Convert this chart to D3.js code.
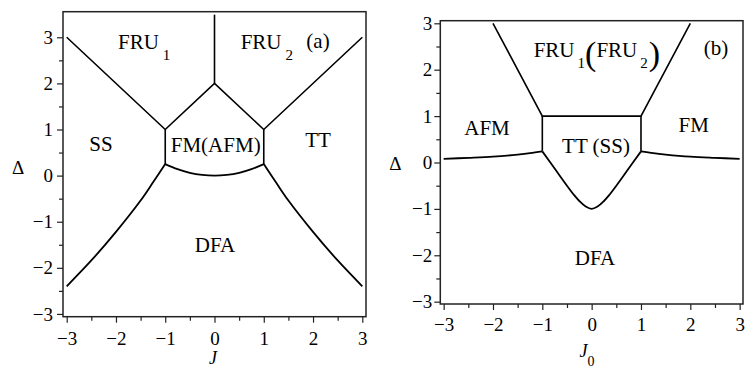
<!DOCTYPE html>
<html>
<head>
<meta charset="utf-8">
<script src="https://cdn.jsdelivr.net/npm/d3@7/dist/d3.min.js"></script>
<style>
  body { margin: 0; background: #fff; }
  svg text { font-family: "Liberation Serif", "Times New Roman", serif !important; fill: #000; }
</style>
</head>
<body>
<div id="chart"></div>
<script>
// tick values (both panels)
const majorTicks = [-3, -2, -1, 0, 1, 2, 3];
const minorTicks = [-2.5, -1.5, -0.5, 0.5, 1.5, 2.5];

// panel (a): phase boundaries as [J, Delta]
const aStem = [[0, 2], [0, 3.49]];
const aRoof = [[-3, 3], [-1, 1], [0, 2], [1, 1], [3, 3]];
const aWallL = [[-1, 1], [-1, 0.25]];
const aWallR = [[1, 1], [1, 0.25]];
const aFloor = [[-1, 0.25], [-0.75, 0.14], [-0.5, 0.06], [-0.25, 0.015], [0, 0], [0.25, 0.015], [0.5, 0.06], [0.75, 0.14], [1, 0.25]];
const aLowL = [[-3, -2.4], [-2.5, -1.84], [-2, -1.22], [-1.5, -0.54], [-1.25, -0.15], [-1, 0.25]];
const aLowR = [[1, 0.25], [1.25, -0.15], [1.5, -0.54], [2, -1.22], [2.5, -1.84], [3, -2.4]];

// panel (b): phase boundaries as [J0, Delta]
const bRoof = [[-2, 3], [-1, 1], [1, 1], [2, 3]];
const bWallL = [[-1, 1], [-1, 0.25]];
const bWallR = [[1, 1], [1, 0.25]];
const bBowl = [[-1, 0.24], [-0.75, -0.13], [-0.5, -0.5], [-0.35, -0.71], [-0.25, -0.83], [-0.12, -0.95], [0, -1], [0.12, -0.95], [0.25, -0.83], [0.35, -0.71], [0.5, -0.5], [0.75, -0.13], [1, 0.24]];
const bOutL = [[-3, 0.08], [-2.5, 0.1], [-2, 0.125], [-1.5, 0.17], [-1.25, 0.2], [-1, 0.24]];
const bOutR = [[1, 0.24], [1.25, 0.2], [1.5, 0.17], [2, 0.125], [2.5, 0.1], [3, 0.08]];

(function(){
    const width = 747;
    const height = 368;

    const svg = d3.select('#chart')
        .append('svg')
            .attr('width', width)
            .attr('height', height);

    const fmt = d => d < 0 ? '\u2212' + Math.abs(d) : String(d);

    const drawPanel = (p) => {
        const x = d3.scaleLinear().domain(p.xDomain).range([p.left, p.right]);
        const y = d3.scaleLinear().domain(p.yDomain).range([p.bottom, p.top]);
        const g = svg.append('g');

        // frame
        g.append('rect')
            .attr('x', p.left)
            .attr('y', p.top)
            .attr('width', p.right - p.left)
            .attr('height', p.bottom - p.top)
            .attr('fill', 'none')
            .attr('stroke', '#222')
            .attr('stroke-width', 1.5);

        // minor ticks
        g.append('g')
            .attr('transform', `translate(0, ${p.bottom})`)
            .call(d3.axisBottom(x).tickValues(minorTicks).tickSize(4).tickSizeOuter(0).tickFormat(''))
            .call(a => a.select('.domain').remove());
        g.append('g')
            .attr('transform', `translate(${p.left}, 0)`)
            .call(d3.axisLeft(y).tickValues(minorTicks).tickSize(4).tickSizeOuter(0).tickFormat(''))
            .call(a => a.select('.domain').remove());

        // major ticks
        g.append('g')
            .attr('transform', `translate(0, ${p.bottom})`)
            .call(d3.axisBottom(x).tickValues(majorTicks).tickSize(6).tickSizeOuter(0).tickPadding(p.xPad).tickFormat(fmt))
            .call(a => a.select('.domain').remove());
        g.append('g')
            .attr('transform', `translate(${p.left}, 0)`)
            .call(d3.axisLeft(y).tickValues(majorTicks).tickSize(6).tickSizeOuter(0).tickPadding(p.yPad).tickFormat(fmt))
            .call(a => a.select('.domain').remove());

        g.selectAll('.tick line').attr('stroke', '#222').attr('stroke-width', 1.2);
        g.selectAll('.tick text').attr('font-size', 19);

        const straight = d3.line().x(d => x(d[0])).y(d => y(d[1]));
        const smooth = d3.line().x(d => x(d[0])).y(d => y(d[1])).curve(d3.curveCatmullRom.alpha(0.5));

        p.straight.forEach(pts => {
            g.append('path')
                .attr('d', straight(pts))
                .attr('fill', 'none')
                .attr('stroke', '#000')
                .attr('stroke-width', 1.6);
        });
        p.curves.forEach(pts => {
            g.append('path')
                .attr('d', smooth(pts))
                .attr('fill', 'none')
                .attr('stroke', '#000')
                .attr('stroke-width', 1.8);
        });

        return g;
    };

    const label = (g, txt, xp, yp, size, anchor, style) => g.append('text')
        .attr('x', xp)
        .attr('y', yp)
        .attr('font-size', size)
        .attr('text-anchor', anchor || 'middle')
        .attr('font-style', style || 'normal')
        .text(txt);

    // ---- panel (a)
    const ga = drawPanel({
        xDomain: [-3.075, 3.075], yDomain: [-3.06, 3.555],
        left: 63, right: 366, top: 11.7, bottom: 316.7,
        xPad: 9, yPad: 4,
        straight: [aStem, aRoof, aWallL, aWallR],
        curves: [aFloor, aLowL, aLowR]
    });

    const fru1 = label(ga, 'FRU', 118, 49, 21, 'start');
    fru1.append('tspan').attr('dx', 4).attr('dy', 11).attr('font-size', 15).text('1');
    const fru2 = label(ga, 'FRU', 240.7, 49, 21, 'start');
    fru2.append('tspan').attr('dx', 4).attr('dy', 11).attr('font-size', 15).text('2');
    label(ga, '(a)', 318, 48, 21);
    label(ga, 'SS', 101, 151, 21);
    label(ga, 'FM(AFM)', 215.7, 152, 21);
    label(ga, 'TT', 318, 147, 21);
    label(ga, 'DFA', 215, 252, 21);
    label(ga, '\u0394', 18, 174, 19);
    label(ga, 'J', 213, 364, 18, 'middle', 'italic');

    // ---- panel (b)
    const gb = drawPanel({
        xDomain: [-3.068, 3.068], yDomain: [-3.05, 3.056],
        left: 440.3, right: 743, top: 20.7, bottom: 304,
        xPad: 8, yPad: 2,
        straight: [bRoof, bWallL, bWallR],
        curves: [bBowl, bOutL, bOutR]
    });

    const fru = label(gb, 'FRU', 533.7, 57, 21, 'start');
    fru.append('tspan').attr('dx', 3).attr('dy', 11).attr('font-size', 15).text('1');
    fru.append('tspan').attr('dx', 0).attr('dy', -3).attr('font-size', 34).text('(');
    fru.append('tspan').attr('dx', 0).attr('dy', -8).attr('font-size', 21).text('FRU');
    fru.append('tspan').attr('dx', 3).attr('dy', 11).attr('font-size', 15).text('2');
    fru.append('tspan').attr('dx', 1).attr('dy', -3).attr('font-size', 34).text(')');
    label(gb, '(b)', 716, 55, 21);
    label(gb, 'AFM', 487, 135, 21);
    label(gb, 'FM', 693.7, 132, 21);
    label(gb, 'TT (SS)', 596, 153, 21);
    label(gb, 'DFA', 595, 265, 21);
    label(gb, '\u0394', 395.3, 170, 19);
    const j0 = label(gb, 'J', 587, 357, 18, 'middle', 'italic');
    j0.append('tspan').attr('dx', 0).attr('dy', 9).attr('font-size', 14).attr('font-style', 'normal').text('0');
}())
</script>
</body>
</html>
